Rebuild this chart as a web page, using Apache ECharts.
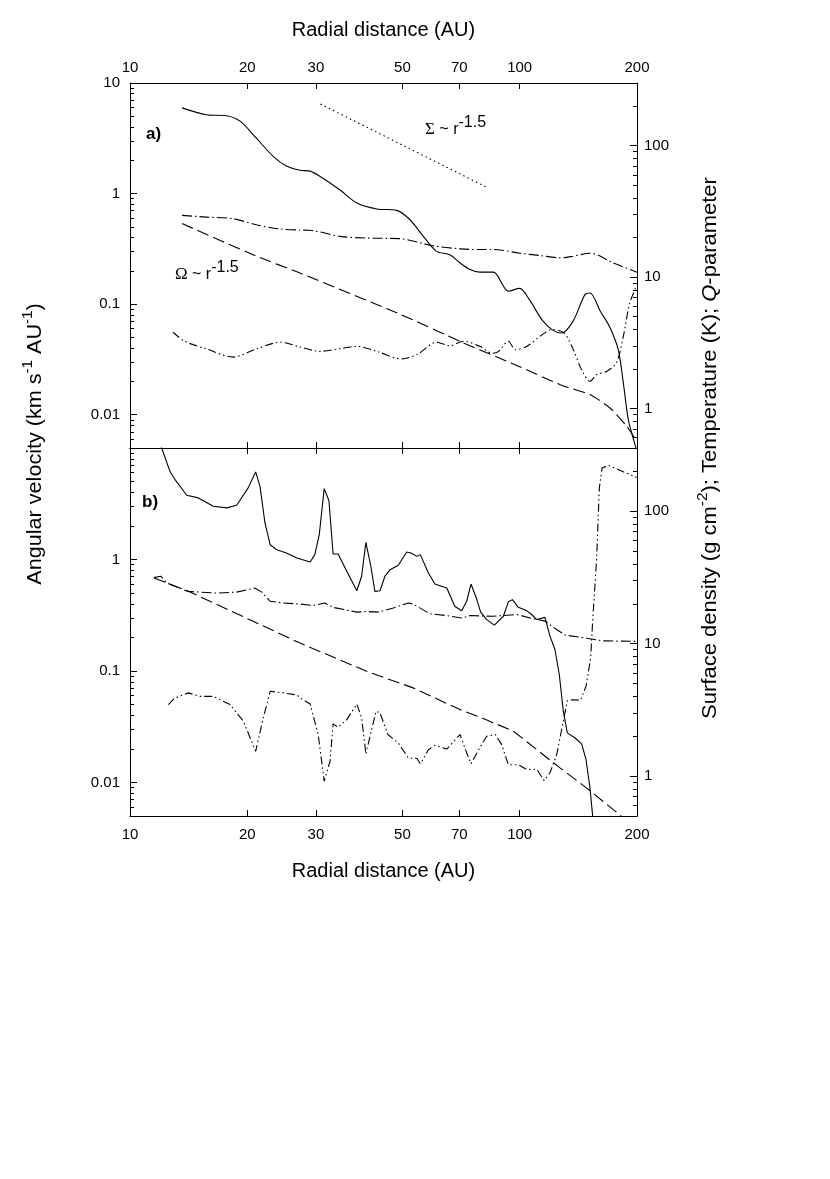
<!DOCTYPE html>
<html><head><meta charset="utf-8">
<script src="https://cdn.jsdelivr.net/npm/echarts@6/dist/echarts.min.js"></script>
<style>html,body{margin:0;padding:0;background:#fff}#c{width:830px;height:1179px}</style>
</head><body><div id="c"></div>
<script>
// ---- tick labels ----
const xTickLabels = [10, 20, 30, 50, 70, 100, 200];
const xTickMarks = [20, 30, 50, 70, 100];
const leftLabelsA = [0.01, 0.1, 1, 10];
const leftLabelsB = [0.01, 0.1, 1];
const rightLabels = [1, 10, 100];

// ---- panel a) ----
const rSigmaA = [13.6,15.7,17.7,19.2,21.1,23.3,25.2,27.3,29,30.7,34.6,38.2,43,48.3,52.3,56.6,61.2,66.2,70.3,74.6,79,85.6,93.5,100,106,114,121,128,137,147,151.5,161,170,179,184.5,190,196,200];
const sigmaA  = [194,172,169,153,114,83,70,65,64,58.5,46,36.6,33,32.2,27.3,20.4,15.7,14.8,12.8,11.4,10.9,10.9,7.8,8.2,6.7,4.74,3.98,3.75,4.6,7.35,7.57,5.5,4.2,2.8,1.56,0.82,0.58,0.47];
const rTempA = [13.6,15.7,18.4,21.1,24.3,27.3,29,34.6,40.5,49.3,60,70.3,79,85.6,100,112.7,127,137,151.5,174,200];
const tempA  = [29.5,28.6,27.8,25,23.2,22.8,22.7,20.4,19.8,19.6,17.3,16.4,16.2,16.2,15.2,14.6,14,14.4,15.2,12.8,10.9];
const rOmegaA = [13.6,21.1,27.3,49.8,70.3,100,127,151.5,170.5,188,200];
const omegaA  = [0.535,0.272,0.191,0.08,0.046,0.0272,0.0187,0.0152,0.0115,0.0079,0.0057];
const rQA = [12.9,13.8,15.7,18.4,21.1,24.3,27.3,30.7,34.5,38.2,43,49.8,54.5,61.2,66.2,71.7,79,85,88.3,93.5,97.6,104.4,112.7,120.8,130,137.3,144.2,151.5,157.6,167,177,184.5,191.6,199.4];
const qA  = [3.8,3.25,2.84,2.46,2.84,3.19,2.94,2.72,2.85,2.97,2.72,2.38,2.57,3.19,3.0,3.25,2.97,2.63,2.72,3.25,2.8,2.97,3.54,3.98,3.75,2.8,1.97,1.61,1.81,1.91,2.22,3.54,6.35,8.5];
const rSigmaRef = [30.8, 82.7];
const sigmaRef  = [207.5, 47.9];

// ---- panel b) ----
const rSigmaB = [11.5,12.06,12.66,13.05,13.98,14.97,16.36,17.7,18.78,20.1,21.01,21.56,22.2,22.9,23.8,25.2,26.8,29,29.8,30.6,31.5,32.4,33.2,34.2,36,38.2,39.3,40.3,41.5,42.5,43.8,45.1,46.5,48.8,51.3,52.6,54.5,55.6,58.3,60.6,62.4,65,68.2,71,73.1,75,77.4,79.4,82.3,86.1,90.8,93.5,95.8,99.2,104.4,107.3,110.6,116.1,119.6,123.2,126.4,129.4,132.5,138.7,144.2,148,151.5,153.8,156];
const sigmaB  = [450,300,200,173,132,126,109,106,111,150,198,154,81.5,55.8,51.2,48.4,44.4,41.4,47,66.5,148,120,47.5,47.5,35.2,25.1,32.3,58.2,38.4,24.8,25.1,32.3,36.2,39.1,49.2,48.4,45.6,47,34.2,28.2,27.4,26.3,19.1,17.7,20.9,28.2,22.1,17.3,15.2,13.8,16.1,20.7,21.5,18.8,17.7,16.6,15.2,15.8,11.4,9.0,5.8,3.09,2.12,1.94,1.75,1.33,0.81,0.51,0.3];
const rTempB = [11.52,12.0,12.42,14.11,16.69,18.78,20.9,21.8,22.9,24.7,27.3,29.5,31.6,33.2,38.2,40.5,43.4,47.4,51.8,53.3,58.9,65,71,74.6,85,98.4,108.5,116.1,124.4,130.8,148.6,162.7,199];
const tempB  = [31.5,32.3,28.7,24.8,24.1,24.5,26.3,24.5,20.9,20.3,19.9,19.4,20.3,18.8,17.3,17.5,17.3,18.6,20.3,19.9,16.8,16.3,15.6,16.3,16.1,16.6,15.4,14.8,12.8,11.6,11.0,10.5,10.4];
const rOmegaB = [11.52,14.11,20.7,27.3,40.5,53.3,70.3,79.1,96.4,110.6,126.9,148.6,180.9,200];
const omegaB  = [0.682,0.519,0.279,0.178,0.0993,0.0705,0.045,0.0385,0.0288,0.0197,0.0135,0.0089,0.0051,0.0036];
const rQB = [12.54,13.05,14.11,15.12,16.36,18.06,19.54,21.01,21.98,22.9,24.7,26.8,27.3,29,30.4,31.5,32.6,33.2,34.2,36,38.2,39.3,40.3,41.6,42.8,43.8,45.9,48.8,51.8,54.5,55.6,58.3,60.6,65,70.3,73.1,75,79.4,82.3,86.6,89.9,93.5,99.2,104.4,110.6,115.5,119.6,124.4,129.4,132.5,137.3,143.3,148,152.1,153.9,157.6,160.1,162.7,168.9,199.4];
const qB  = [3.47,3.89,4.25,4.0,4.0,3.47,2.6,1.54,2.75,4.37,4.25,4.1,3.9,3.5,2.06,0.915,1.29,2.48,2.34,2.67,3.5,2.75,1.47,2.18,3.09,3.0,2.06,1.78,1.37,1.36,1.24,1.58,1.71,1.6,2.06,1.5,1.24,1.68,2.0,2.06,1.73,1.22,1.22,1.12,1.13,0.925,1.06,1.45,2.59,3.71,3.77,3.74,4.77,7.8,14.8,44.4,150,212,222,180];

const FONT = '"Liberation Sans", Arial, Helvetica, sans-serif';
const SERIF = '"Liberation Serif", "DejaVu Serif", serif';
const zip = (a, b) => a.map((x, i) => [x, b[i]]);
const fmt = v => String(+(+v).toPrecision(4));
function minorTicks(lo, hi) {
  const out = [];
  for (let e = Math.floor(Math.log10(lo)); e <= Math.ceil(Math.log10(hi)); e++) {
    for (let m = 2; m <= 9; m++) {
      const v = +(m * Math.pow(10, e)).toPrecision(6);
      if (v > lo * 1.0001 && v < hi * 0.9999) out.push(v);
    }
  }
  return out;
}
const LEFT = [0.005, 10], RIGHT = [0.5, 300], XR = [10, 200];
const black = '#000';

function xAx(gi, pos, showLabels, name, gap) {
  return {
    type: 'log', logBase: 10, gridIndex: gi, position: pos, min: XR[0], max: XR[1],
    axisLine: { show: true, onZero: false, lineStyle: { color: black, width: 1 } },
    axisTick: { show: true, inside: true, length: 6, customValues: xTickMarks, lineStyle: { color: black, width: 1 } },
    axisLabel: { show: showLabels, customValues: xTickLabels, margin: pos === 'top' ? 8 : 11,
      color: black, fontSize: 15, fontFamily: FONT, formatter: fmt },
    splitLine: { show: false }, minorTick: { show: false },
    name: name || '', nameLocation: 'middle', nameGap: gap || 0,
    nameTextStyle: { color: black, fontSize: 20, fontFamily: FONT }
  };
}
function yAx(gi, pos, range, majors, labels, minor) {
  return {
    type: 'log', logBase: 10, gridIndex: gi, position: pos, min: range[0], max: range[1],
    axisLine: { show: !minor, onZero: false, lineStyle: { color: black, width: 1 } },
    axisTick: { show: true, inside: true, length: minor ? 4 : 7,
      customValues: minor ? minorTicks(range[0], range[1]) : majors, lineStyle: { color: black, width: 1 } },
    axisLabel: { show: !minor, customValues: labels, margin: pos === 'left' ? 10 : 7,
      color: black, fontSize: 15, fontFamily: FONT, formatter: fmt },
    splitLine: { show: false }, minorTick: { show: false }
  };
}

const lineS = (name, xi, yi, r, v, dash, smooth) => ({
  name, type: 'line', xAxisIndex: xi, yAxisIndex: yi, data: zip(r, v),
  showSymbol: false, symbol: 'none', smooth: smooth, silent: true, animation: false,
  lineStyle: { color: black, width: 1.1, type: dash }
});
const DASH = [12, 5], DASHDOT = [10, 3, 1.5, 3], DASHDOTDOT = [8, 3, 1.5, 3, 1.5, 3], DOT = [1.5, 3.2];

const titleSup = { fontSize: 14, fontFamily: FONT, verticalAlign: 'top', padding: [0, 0, 14, 0] };
const annoRich = {
  sym: { fontSize: 17, fontFamily: SERIF, verticalAlign: 'middle' },
  txt: { fontSize: 16, fontFamily: FONT, verticalAlign: 'middle' },
  sup: { fontSize: 16, fontFamily: FONT, verticalAlign: 'top', padding: [0, 0, 14, 0] }
};
const option = {
  backgroundColor: '#fff',
  animation: false,
  grid: [
    { left: 130, top: 83, width: 507, height: 365 },
    { left: 130, top: 448, width: 507, height: 368 }
  ],
  xAxis: [
    xAx(0, 'top', true, 'Radial distance (AU)', 43),
    xAx(0, 'bottom', false),
    xAx(1, 'top', false),
    xAx(1, 'bottom', true, 'Radial distance (AU)', 45)
  ],
  yAxis: [
    yAx(0, 'left', LEFT, leftLabelsA, leftLabelsA, false),
    yAx(0, 'left', LEFT, null, null, true),
    yAx(0, 'right', RIGHT, rightLabels, rightLabels, false),
    yAx(0, 'right', RIGHT, null, null, true),
    yAx(1, 'left', LEFT, leftLabelsA, leftLabelsB, false),
    yAx(1, 'left', LEFT, null, null, true),
    yAx(1, 'right', RIGHT, rightLabels, rightLabels, false),
    yAx(1, 'right', RIGHT, null, null, true)
  ],
  series: [
    lineS('Surface density a', 0, 2, rSigmaA, sigmaA, 'solid', 0.3),
    lineS('Temperature a', 0, 2, rTempA, tempA, DASHDOT, 0.3),
    lineS('Q a', 0, 2, rQA, qA, DASHDOTDOT, 0.3),
    lineS('Omega a', 0, 0, rOmegaA, omegaA, DASH, 0.2),
    lineS('Sigma ~ r^-1.5', 0, 2, rSigmaRef, sigmaRef, DOT, false),
    lineS('Surface density b', 3, 6, rSigmaB, sigmaB, 'solid', false),
    lineS('Temperature b', 3, 6, rTempB, tempB, DASHDOT, false),
    lineS('Q b', 3, 6, rQB, qB, DASHDOTDOT, false),
    lineS('Omega b', 3, 4, rOmegaB, omegaB, DASH, false)
  ],
  graphic: [
    { type: 'text', x: 35, y: 444, rotation: Math.PI / 2, scaleX: 1.08, silent: true,
      style: { text: 'Angular velocity (km s{sup|-1} AU{sup|-1})', fontSize: 20, fontFamily: FONT, fill: black,
        align: 'center', verticalAlign: 'middle', rich: { sup: titleSup } } },
    { type: 'text', x: 710, y: 448, rotation: Math.PI / 2, scaleX: 1.1, silent: true,
      style: { text: 'Surface density (g cm{sup|-2}); Temperature (K); {it|Q}-parameter', fontSize: 20, fontFamily: FONT, fill: black,
        align: 'center', verticalAlign: 'middle',
        rich: { sup: { fontSize: 14, fontFamily: FONT, verticalAlign: 'top', padding: [0, 0, 14, 0] },
                it: { fontSize: 20, fontFamily: FONT, fontStyle: 'italic' } } } },
    { type: 'text', x: 146, y: 134, silent: true,
      style: { text: 'a)', fontSize: 17, fontWeight: 'bold', fontFamily: FONT, fill: black, align: 'left', verticalAlign: 'middle' } },
    { type: 'text', x: 142, y: 502, silent: true,
      style: { text: 'b)', fontSize: 17, fontWeight: 'bold', fontFamily: FONT, fill: black, align: 'left', verticalAlign: 'middle' } },
    { type: 'text', x: 425, y: 130, silent: true,
      style: { text: '{sym|Σ}{txt| ~ r}{sup|-1.5}', fontSize: 16, fontFamily: FONT, fill: black, align: 'left', verticalAlign: 'middle',
        rich: annoRich } },
    { type: 'text', x: 175, y: 275, silent: true,
      style: { text: '{sym|Ω}{txt| ~ r}{sup|-1.5}', fontSize: 16, fontFamily: FONT, fill: black, align: 'left', verticalAlign: 'middle',
        rich: annoRich } }
  ]
};
const chart = echarts.init(document.getElementById('c'), null, { renderer: 'canvas' });
chart.setOption(option);
</script>
</body></html>
